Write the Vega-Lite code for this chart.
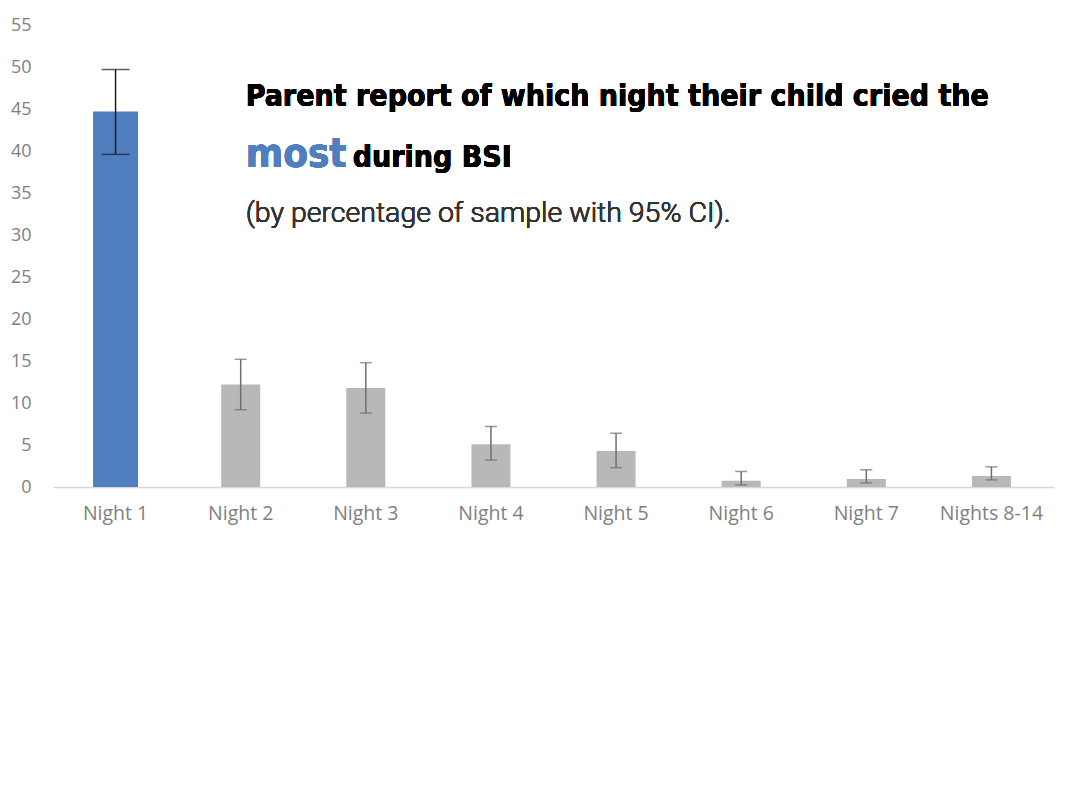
{
  "$schema": "https://vega.github.io/schema/vega-lite/v6.json",
  "width": 1001,
  "height": 462,
  "autosize": "none",
  "padding": {"left": 53, "top": 25, "right": 26, "bottom": 323},
  "background": "white",
  "config": {"view": {"stroke": null}},
  "data": {
    "values": [
      {"night": "Night 1", "pct": 44.7, "lo": 39.6, "hi": 49.7},
      {"night": "Night 2", "pct": 12.2, "lo": 9.2, "hi": 15.2},
      {"night": "Night 3", "pct": 11.8, "lo": 8.8, "hi": 14.8},
      {"night": "Night 4", "pct": 5.1, "lo": 3.2, "hi": 7.2},
      {"night": "Night 5", "pct": 4.3, "lo": 2.3, "hi": 6.4},
      {"night": "Night 6", "pct": 0.75, "lo": 0.25, "hi": 1.85},
      {"night": "Night 7", "pct": 0.95, "lo": 0.5, "hi": 2.05},
      {"night": "Nights 8-14", "pct": 1.3, "lo": 0.85, "hi": 2.4}
    ]
  },
  "encoding": {
    "x": {
      "field": "night",
      "type": "nominal",
      "sort": null,
      "title": null,
      "scale": {"paddingInner": 0.68, "paddingOuter": 0.34},
      "axis": {
        "labelAngle": 0,
        "labelFont": "Open Sans",
        "labelFontSize": 19.5,
        "labelColor": "#7f7f7f",
        "labelPadding": 17,
        "ticks": false,
        "domainColor": "#d9d9d9",
        "domainWidth": 1.5
      }
    }
  },
  "layer": [
    {
      "mark": {"type": "bar"},
      "encoding": {
        "y": {
          "field": "pct",
          "type": "quantitative",
          "title": null,
          "scale": {"domain": [0, 55]},
          "axis": {
            "values": [0, 5, 10, 15, 20, 25, 30, 35, 40, 45, 50, 55],
            "grid": false,
            "domain": false,
            "ticks": false,
            "labelFont": "Open Sans",
            "labelFontSize": 18,
            "labelColor": "#7f7f7f",
            "labelPadding": 22
          }
        },
        "color": {
          "condition": {"test": "datum.night === 'Night 1'", "value": "#4f7fbe"},
          "value": "#b8b8b8"
        },
        "size": {
          "condition": {"test": "datum.night === 'Night 1'", "value": 45},
          "value": 39
        }
      }
    },
    {
      "mark": {"type": "rule", "strokeWidth": 1.5},
      "encoding": {
        "y": {"field": "lo", "type": "quantitative"},
        "y2": {"field": "hi"},
        "color": {
          "condition": {"test": "datum.night === 'Night 1'", "value": "#1a1a1a"},
          "value": "#6e6e6e"
        }
      }
    },
    {
      "mark": {"type": "tick", "thickness": 1.5},
      "encoding": {
        "y": {"field": "hi", "type": "quantitative"},
        "color": {
          "condition": {"test": "datum.night === 'Night 1'", "value": "#1a1a1a"},
          "value": "#6e6e6e"
        },
        "size": {
          "condition": {"test": "datum.night === 'Night 1'", "value": 28},
          "value": 12
        }
      }
    },
    {
      "mark": {"type": "tick", "thickness": 1.5},
      "encoding": {
        "y": {"field": "lo", "type": "quantitative"},
        "color": {
          "condition": {"test": "datum.night === 'Night 1'", "value": "#1a1a1a"},
          "value": "#6e6e6e"
        },
        "size": {
          "condition": {"test": "datum.night === 'Night 1'", "value": 28},
          "value": 12
        }
      }
    },
    {
      "mark": {
        "type": "text",
        "align": "left",
        "baseline": "alphabetic",
        "dx": 5,
        "font": "DejaVu Sans Condensed",
        "fontWeight": "bold",
        "fontSize": 30,
        "color": "#000000",
        "text": "Parent report of which night their child cried the"
      },
      "encoding": {
        "x": {"datum": "Night 2"},
        "y": {"datum": 45.4}
      }
    },
    {
      "mark": {
        "type": "text",
        "align": "left",
        "baseline": "alphabetic",
        "dx": 5,
        "font": "DejaVu Sans Condensed",
        "fontWeight": "bold",
        "fontSize": 40,
        "color": "#4f7fbe",
        "text": "most"
      },
      "encoding": {
        "x": {"datum": "Night 2"},
        "y": {"datum": 38.1}
      }
    },
    {
      "mark": {
        "type": "text",
        "align": "left",
        "baseline": "alphabetic",
        "dx": 112,
        "font": "DejaVu Sans Condensed",
        "fontWeight": "bold",
        "fontSize": 30,
        "color": "#000000",
        "text": "during BSI"
      },
      "encoding": {
        "x": {"datum": "Night 2"},
        "y": {"datum": 38.1}
      }
    },
    {
      "mark": {
        "type": "text",
        "align": "left",
        "baseline": "alphabetic",
        "dx": 5,
        "font": "Roboto",
        "fontWeight": 300,
        "fontSize": 28.5,
        "color": "#333333",
        "text": "(by percentage of sample with 95% CI)."
      },
      "encoding": {
        "x": {"datum": "Night 2"},
        "y": {"datum": 31.6}
      }
    }
  ]
}
